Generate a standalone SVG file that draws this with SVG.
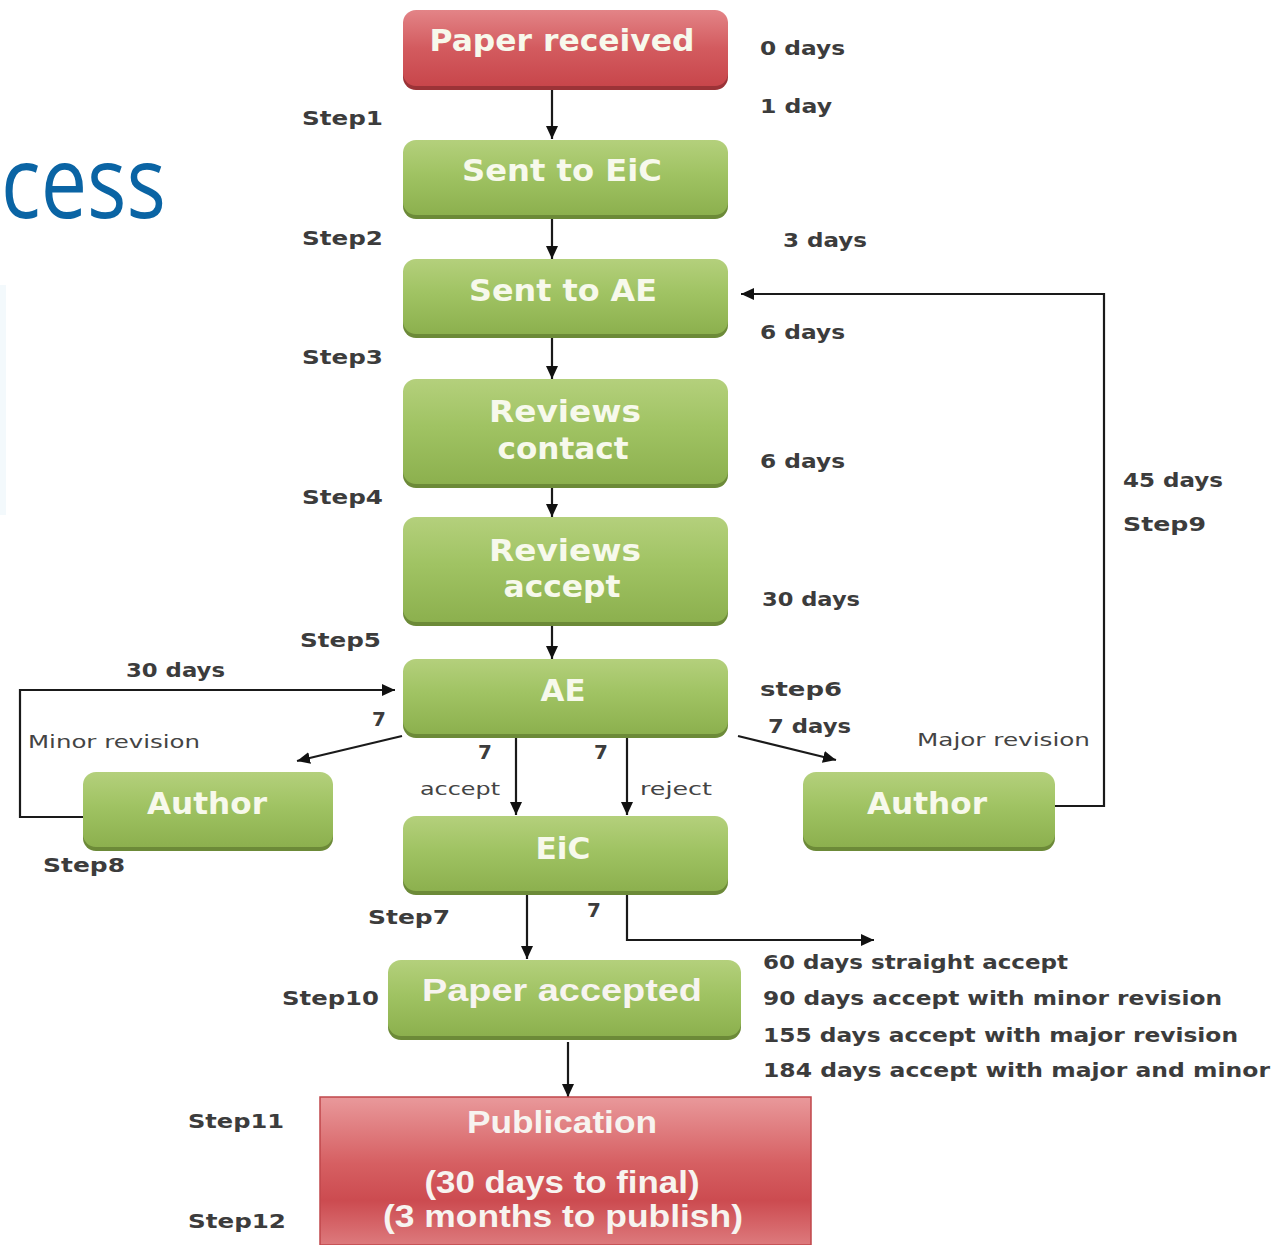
<svg xmlns="http://www.w3.org/2000/svg" width="1280" height="1245" viewBox="0 0 1280 1245">
<defs>
<linearGradient id="gGreen" x1="0" y1="0" x2="0" y2="1">
<stop offset="0" stop-color="#b4d07c"/>
<stop offset="0.45" stop-color="#a0c363"/>
<stop offset="1" stop-color="#8cb04e"/>
</linearGradient>
<linearGradient id="gRed" x1="0" y1="0" x2="0" y2="1">
<stop offset="0" stop-color="#e38487"/>
<stop offset="0.5" stop-color="#d35b5f"/>
<stop offset="1" stop-color="#c8464b"/>
</linearGradient>
<linearGradient id="gPub" x1="0" y1="0" x2="0" y2="1">
<stop offset="0" stop-color="#e9999b"/>
<stop offset="0.45" stop-color="#d65f62"/>
<stop offset="0.7" stop-color="#cc4b50"/>
<stop offset="1" stop-color="#dd7a7d"/>
</linearGradient>
<marker id="arr" markerUnits="userSpaceOnUse" markerWidth="14" markerHeight="14" refX="13" refY="7" orient="auto">
<path d="M0,1 L13,7 L0,13 z" fill="#111"/>
</marker>
</defs>
<style>
.sh-g{fill:#6c8a38}
.bx-g{fill:url(#gGreen)}
.sh-r{fill:#9b3337}
.bx-r{fill:url(#gRed)}
.bt{font-family:"DejaVu Sans",Verdana,sans-serif;font-weight:bold;font-size:30px;fill:#f7f9ec;text-anchor:middle}
.bt2{font-family:"Liberation Sans",Arial,sans-serif;font-weight:bold;font-size:31px;fill:#f7f4f0;text-anchor:middle}
.lb{font-family:"DejaVu Sans",Verdana,sans-serif;font-weight:bold;font-size:20px;fill:#3c3c3c}
.lbs{font-family:"DejaVu Sans",Verdana,sans-serif;font-size:18px;fill:#444}
.cn{fill:none;stroke:#1a1a1a;stroke-width:2.2}
</style>
<rect x="0" y="0" width="1280" height="1245" fill="#ffffff"/>
<rect x="0" y="285" width="6" height="230" fill="#f3f9fc"/>
<text x="1" y="218" font-family="'Open Sans',sans-serif" font-size="100" fill="#0a64a4" textLength="165" lengthAdjust="spacingAndGlyphs">cess</text>

<g id="connectors">
<path class="cn" d="M552,88 V139" marker-end="url(#arr)"/>
<path class="cn" d="M552,217 V259" marker-end="url(#arr)"/>
<path class="cn" d="M552,337 V379" marker-end="url(#arr)"/>
<path class="cn" d="M552,486 V517" marker-end="url(#arr)"/>
<path class="cn" d="M552,625 V659" marker-end="url(#arr)"/>
<path class="cn" d="M516,737 V815" marker-end="url(#arr)"/>
<path class="cn" d="M627,737 V815" marker-end="url(#arr)"/>
<path class="cn" d="M402,736 L297,761" marker-end="url(#arr)"/>
<path class="cn" d="M738,736 L836,760" marker-end="url(#arr)"/>
<path class="cn" d="M84,817 H20 V690 H395" marker-end="url(#arr)"/>
<path class="cn" d="M1055,806 H1104 V294 H741" marker-end="url(#arr)"/>
<path class="cn" d="M527,893 V959" marker-end="url(#arr)"/>
<path class="cn" d="M627,893 V940 H874" marker-end="url(#arr)"/>
<path class="cn" d="M568,1042 V1097" marker-end="url(#arr)"/>
</g>

<g id="paper-received">
<rect class="sh-r" x="403" y="13" width="325" height="77" rx="13"/>
<rect class="bx-r" x="403" y="10" width="325" height="76" rx="13"/>
<text class="bt" x="562" y="51" textLength="265" lengthAdjust="spacingAndGlyphs">Paper received</text>
</g>
<g id="sent-eic">
<rect class="sh-g" x="403" y="143" width="325" height="76" rx="13"/>
<rect class="bx-g" x="403" y="140" width="325" height="75" rx="13"/>
<text class="bt" x="562" y="181" textLength="200" lengthAdjust="spacingAndGlyphs">Sent to EiC</text>
</g>
<g id="sent-ae">
<rect class="sh-g" x="403" y="262" width="325" height="76" rx="13"/>
<rect class="bx-g" x="403" y="259" width="325" height="75" rx="13"/>
<text class="bt" x="563" y="301" textLength="188" lengthAdjust="spacingAndGlyphs">Sent to AE</text>
</g>
<g id="reviews-contact">
<rect class="sh-g" x="403" y="382" width="325" height="106" rx="13"/>
<rect class="bx-g" x="403" y="379" width="325" height="105" rx="13"/>
<text class="bt" x="565" y="422" textLength="152" lengthAdjust="spacingAndGlyphs">Reviews</text>
<text class="bt" x="563" y="459" textLength="131" lengthAdjust="spacingAndGlyphs">contact</text>
</g>
<g id="reviews-accept">
<rect class="sh-g" x="403" y="520" width="325" height="106" rx="13"/>
<rect class="bx-g" x="403" y="517" width="325" height="105" rx="13"/>
<text class="bt" x="565" y="561" textLength="152" lengthAdjust="spacingAndGlyphs">Reviews</text>
<text class="bt" x="562" y="597" textLength="117" lengthAdjust="spacingAndGlyphs">accept</text>
</g>
<g id="ae">
<rect class="sh-g" x="403" y="662" width="325" height="76" rx="13"/>
<rect class="bx-g" x="403" y="659" width="325" height="75" rx="13"/>
<text class="bt" x="563" y="701" textLength="45" lengthAdjust="spacingAndGlyphs">AE</text>
</g>
<g id="author-left">
<rect class="sh-g" x="83" y="775" width="250" height="76" rx="13"/>
<rect class="bx-g" x="83" y="772" width="250" height="75" rx="13"/>
<text class="bt" x="207" y="814" textLength="120" lengthAdjust="spacingAndGlyphs">Author</text>
</g>
<g id="author-right">
<rect class="sh-g" x="803" y="775" width="252" height="76" rx="13"/>
<rect class="bx-g" x="803" y="772" width="252" height="75" rx="13"/>
<text class="bt" x="927" y="814" textLength="120" lengthAdjust="spacingAndGlyphs">Author</text>
</g>
<g id="eic">
<rect class="sh-g" x="403" y="819" width="325" height="76" rx="13"/>
<rect class="bx-g" x="403" y="816" width="325" height="75" rx="13"/>
<text class="bt" x="563" y="859" textLength="55" lengthAdjust="spacingAndGlyphs">EiC</text>
</g>
<g id="paper-accepted">
<rect class="sh-g" x="388" y="963" width="353" height="77" rx="13"/>
<rect class="bx-g" x="388" y="960" width="353" height="76" rx="13"/>
<text class="bt2" x="562" y="1001" textLength="280" lengthAdjust="spacingAndGlyphs">Paper accepted</text>
</g>
<g id="publication">
<rect x="320" y="1097" width="491" height="148" fill="url(#gPub)" stroke="#c0474b" stroke-width="1.5"/>
<text class="bt2" x="562" y="1133" textLength="190" lengthAdjust="spacingAndGlyphs">Publication</text>
<text class="bt2" x="562" y="1193" textLength="275" lengthAdjust="spacingAndGlyphs">(30 days to final)</text>
<text class="bt2" x="563" y="1227" textLength="360" lengthAdjust="spacingAndGlyphs">(3 months to publish)</text>
</g>

<g id="labels">
<text class="lb" x="760" y="55" textLength="85" lengthAdjust="spacingAndGlyphs">0 days</text>
<text class="lb" x="760" y="113" textLength="72" lengthAdjust="spacingAndGlyphs">1 day</text>
<text class="lb" x="302" y="125" textLength="81" lengthAdjust="spacingAndGlyphs">Step1</text>
<text class="lb" x="302" y="245" textLength="81" lengthAdjust="spacingAndGlyphs">Step2</text>
<text class="lb" x="783" y="247" textLength="84" lengthAdjust="spacingAndGlyphs">3 days</text>
<text class="lb" x="760" y="339" textLength="85" lengthAdjust="spacingAndGlyphs">6 days</text>
<text class="lb" x="302" y="364" textLength="81" lengthAdjust="spacingAndGlyphs">Step3</text>
<text class="lb" x="760" y="468" textLength="85" lengthAdjust="spacingAndGlyphs">6 days</text>
<text class="lb" x="302" y="504" textLength="81" lengthAdjust="spacingAndGlyphs">Step4</text>
<text class="lb" x="1123" y="487" textLength="100" lengthAdjust="spacingAndGlyphs">45 days</text>
<text class="lb" x="1123" y="531" textLength="83" lengthAdjust="spacingAndGlyphs">Step9</text>
<text class="lb" x="762" y="606" textLength="98" lengthAdjust="spacingAndGlyphs">30 days</text>
<text class="lb" x="300" y="647" textLength="81" lengthAdjust="spacingAndGlyphs">Step5</text>
<text class="lb" x="126" y="677" textLength="99" lengthAdjust="spacingAndGlyphs">30 days</text>
<text class="lb" x="760" y="696" textLength="82" lengthAdjust="spacingAndGlyphs">step6</text>
<text class="lb" x="768" y="733" textLength="83" lengthAdjust="spacingAndGlyphs">7 days</text>
<text class="lb" x="372" y="726">7</text>
<text class="lbs" x="28" y="748" textLength="172" lengthAdjust="spacingAndGlyphs">Minor revision</text>
<text class="lbs" x="917" y="746" textLength="173" lengthAdjust="spacingAndGlyphs">Major revision</text>
<text class="lb" x="478" y="759">7</text>
<text class="lb" x="594" y="759">7</text>
<text class="lbs" x="420" y="795" textLength="80" lengthAdjust="spacingAndGlyphs">accept</text>
<text class="lbs" x="640" y="795" textLength="72" lengthAdjust="spacingAndGlyphs">reject</text>
<text class="lb" x="43" y="872" textLength="82" lengthAdjust="spacingAndGlyphs">Step8</text>
<text class="lb" x="368" y="924" textLength="82" lengthAdjust="spacingAndGlyphs">Step7</text>
<text class="lb" x="587" y="917">7</text>
<text class="lb" x="763" y="969" textLength="305" lengthAdjust="spacingAndGlyphs">60 days straight accept</text>
<text class="lb" x="763" y="1005" textLength="459" lengthAdjust="spacingAndGlyphs">90 days accept with minor revision</text>
<text class="lb" x="763" y="1042" textLength="475" lengthAdjust="spacingAndGlyphs">155 days accept with major revision</text>
<text class="lb" x="763" y="1077" textLength="507" lengthAdjust="spacingAndGlyphs">184 days accept with major and minor</text>
<text class="lb" x="282" y="1005" textLength="97" lengthAdjust="spacingAndGlyphs">Step10</text>
<text class="lb" x="188" y="1128" textLength="96" lengthAdjust="spacingAndGlyphs">Step11</text>
<text class="lb" x="188" y="1228" textLength="98" lengthAdjust="spacingAndGlyphs">Step12</text>
</g>
</svg>
